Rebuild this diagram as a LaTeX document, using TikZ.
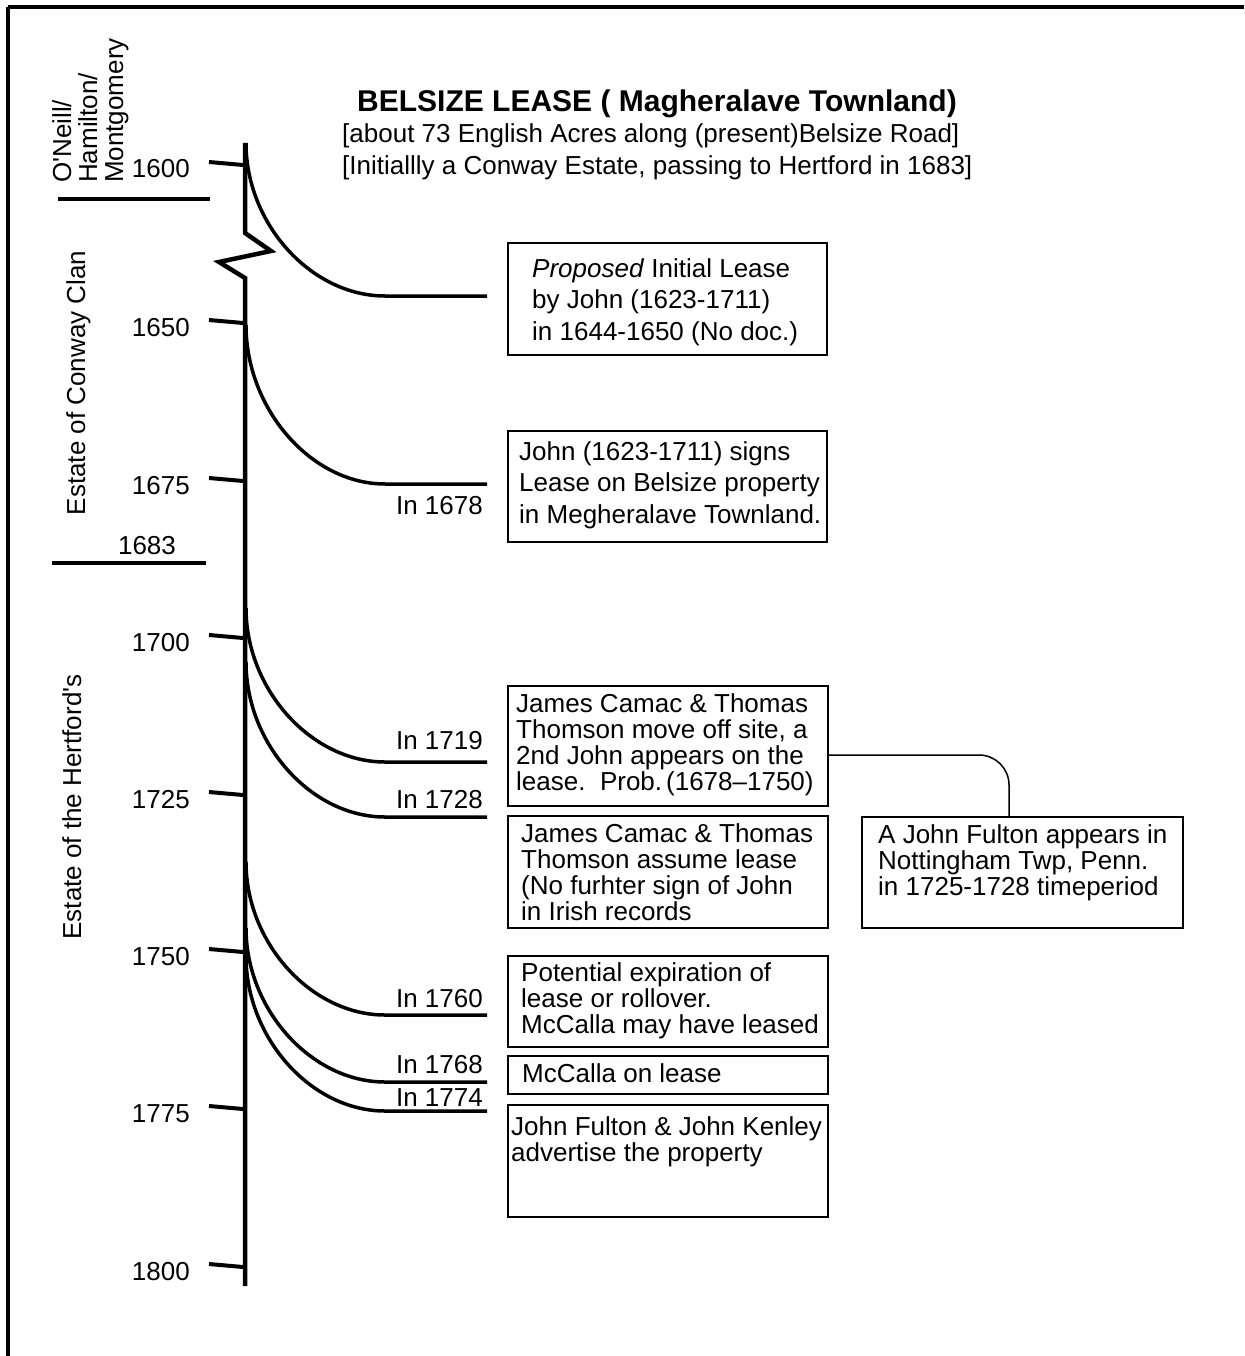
\documentclass[tikz,border=0pt]{standalone}
\usepackage{fontspec}
\setmainfont{Liberation Sans}
\usetikzlibrary{calc}
\newcommand\tstrut{\rule{0pt}{20pt}}
\begin{document}
\begin{tikzpicture}[x=1pt,y=-1pt,
  body/.style={font=\fontsize{26}{26}\selectfont},
  txt/.style={body, inner sep=0pt, anchor=north west, align=left},
  widetxt/.style={txt, font=\fontsize{26}{31.5}\selectfont},
  evbox/.style={draw, line width=2pt, rectangle, inner sep=0pt, anchor=north west},
  yearlab/.style={body, inner sep=0pt, anchor=base east},
  inlab/.style={body, inner sep=0pt, anchor=base east},
  axisline/.style={line width=4.5pt},
  tickline/.style={line width=4pt},
  eraline/.style={line width=4pt},
  lease/.style={line width=3.5pt},
  link/.style={line width=1.5pt, rounded corners=30pt},
  frame/.style={line width=3.5pt},
  era/.style={body, inner sep=0pt, rotate=90}
]
\useasboundingbox (0,0) rectangle (1244,1356);

% frame (top and left edges)
\draw[frame] (8,7) -- (1244,7);
\draw[frame] (8,7) -- (8,1356);

% title
\node[anchor=base west, inner sep=0pt, font=\fontsize{30}{30}\selectfont\bfseries] (title) at (357,112) {BELSIZE LEASE ( Magheralave Townland)};
\node[anchor=base west, inner sep=0pt, body] (sub1) at (342,143) {[about 73 English Acres along (present)Belsize Road]};
\node[anchor=base west, inner sep=0pt, body] (sub2) at (342,175) {[Initiallly a Conway Estate, passing to Hertford in 1683]};

% time axis with a break
\coordinate (axtop) at (245,143);
\coordinate (axbot) at (245,1286);
\draw[axisline, line join=miter] (axtop) -- (245,233) -- (271,251) -- (219,262) -- (245,278) -- (axbot);

% ticks and year labels
\foreach \yr/\ty in {1600/165,1650/323,1675/481,1700/638,1725/795,1750/952,1775/1109,1800/1267}{
  \coordinate (tk\yr) at (243,\ty);
  \draw[tickline] (209,\ty-3) -- (tk\yr);
  \node[yearlab] (yl\yr) at (190,\ty+13) {\yr};
}

% era separators
\draw[eraline] (58,199) -- (210,199);
\draw[eraline] (52,563) -- (206,563);
\node[anchor=base, inner sep=0pt, body] (y1683) at (147,554) {1683};

% era labels
\node[era, anchor=north west, align=left] (eraA) at (52,183) {O\textquotesingle Neill/\\Hamilton/\\Montgomery};
\node[era, anchor=base] (eraB) at (85,383) {Estate of Conway Clan};
\node[era, anchor=base] (eraC) at (81,807) {Estate of the Hertford\textquotesingle s};

% event boxes
\node[evbox, minimum width=319pt, minimum height=112pt] (boxA) at (507,242) {};
\node[evbox, minimum width=319pt, minimum height=111pt] (boxB) at (507,430) {};
\node[evbox, minimum width=320pt, minimum height=120pt] (boxC) at (507,685) {};
\node[evbox, minimum width=320pt, minimum height=112pt] (boxD) at (507,815) {};
\node[evbox, minimum width=321pt, minimum height=111pt] (boxE) at (861,816) {};
\node[evbox, minimum width=320pt, minimum height=91pt] (boxF) at (507,955) {};
\node[evbox, minimum width=320pt, minimum height=38pt] (boxG) at (507,1055) {};
\node[evbox, minimum width=320pt, minimum height=112pt] (boxH) at (507,1104) {};

% box texts
\node[widetxt] (tA) at (532,257) {\tstrut\textit{Proposed} Initial Lease\\by John (1623-1711)\\in 1644-1650 (No doc.)};
\node[widetxt] (tB) at (519,440) {\tstrut John (1623-1711) signs\\Lease on Belsize property\\in Megheralave Townland.};
\node[txt] (tC) at (516,692) {\tstrut James Camac \& Thomas\\Thomson move off site, a\\2nd John appears on the\\lease.\ \ Prob.\hspace{4pt}(1678–1750)};
\node[txt] (tD) at (521,822) {\tstrut James Camac \& Thomas\\Thomson assume lease\\(No furhter sign of John\\in Irish records};
\node[txt] (tE) at (878,823) {\tstrut A John Fulton appears in\\Nottingham Twp, Penn.\\in 1725-1728 timeperiod};
\node[txt] (tF) at (521,961) {\tstrut Potential expiration of\\lease or rollover.\\McCalla may have leased};
\node[txt] (tG) at (522,1062) {\tstrut McCalla on lease};
\node[txt] (tH) at (511,1115) {\tstrut John Fulton \& John Kenley\\advertise the property};

% lease curves from the axis
\foreach \i/\ys/\ye in {1/143/296,2/325/484,3/608/762,4/662/817,5/862/1015,6/928/1082,7/956/1111}{
  \coordinate (s\i) at (246,\ys);
  \coordinate (b\i) at (385,\ye);
  \coordinate (e\i) at (487,\ye);
  \draw[lease] (s\i) .. controls ($(s\i)!0.53!(s\i|-b\i)$) and ($(b\i)!0.53!(s\i|-b\i)$) .. (b\i) -- (e\i);
}

% year labels on the lease lines
\node[inlab] (in1678) at (483,514) {In 1678};
\node[inlab] (in1719) at (483,749) {In 1719};
\node[inlab] (in1728) at (483,808) {In 1728};
\node[inlab] (in1760) at (483,1007) {In 1760};
\node[inlab] (in1768) at (483,1073) {In 1768};
\node[inlab] (in1774) at (483,1106) {In 1774};

% link to the Pennsylvania record
\draw[link] ([yshift=-9pt]boxC.east) -| ([xshift=-13.5pt]boxE.north);
\end{tikzpicture}
\end{document}
